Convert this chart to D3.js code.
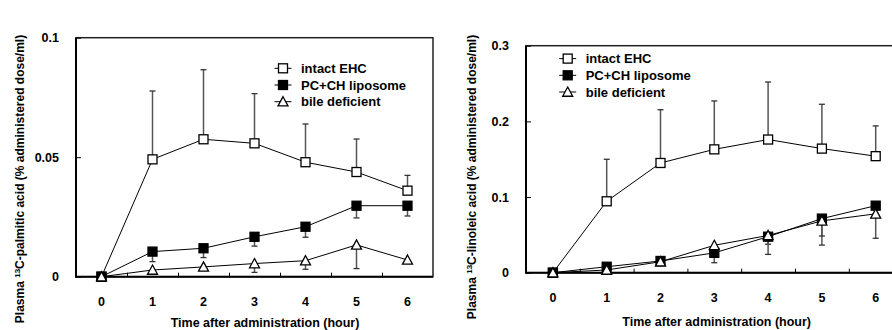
<!DOCTYPE html>
<html>
<head>
<meta charset="utf-8">
<script src="https://cdn.jsdelivr.net/npm/d3@7"></script>
<style>
	body { margin: 0; background: #fff; }
	text { font-family: Arial, "Liberation Sans", sans-serif; font-weight: bold; fill: #000; }
</style>
</head>
<body>
<div id="chart"></div>
<script>
// Sampling times (hours)
var hours = [0, 1, 2, 3, 4, 5, 6];
var seriesNames = ['intact EHC', 'PC+CH liposome', 'bile deficient'];

// Left panel: 13C-palmitic acid
var palmIntact = [0, 0.0491, 0.0575, 0.0558, 0.0479, 0.0438, 0.036];
var palmIntactErr = [0, 0.0286, 0.0291, 0.0208, 0.016, 0.0138, 0.0064];
var palmPC = [0, 0.0105, 0.0119, 0.0167, 0.0209, 0.0297, 0.0297];
var palmPCErr = [0, 0.0042, 0.0039, 0.0039, 0.0044, 0.0051, 0.0043];
var palmBile = [0, 0.0028, 0.0041, 0.0055, 0.0067, 0.0133, 0.007];
var palmBileErr = [0, 0, 0.0015, 0.0037, 0.0036, 0.0099, 0];
var palmTicks = [0, 0.05, 0.1];
var palmTickLabels = ['0', '0.05', '0.1'];

// Right panel: 13C-linoleic acid
var linIntact = [0, 0.0944, 0.145, 0.163, 0.176, 0.164, 0.154];
var linIntactErr = [0, 0.0555, 0.0704, 0.064, 0.076, 0.0586, 0.04];
var linPC = [0, 0.0079, 0.0155, 0.0262, 0.0476, 0.0715, 0.0886];
var linPCErr = [0, 0, 0, 0.013, 0.01, 0.035, 0];
var linBile = [0, 0.0036, 0.0145, 0.0362, 0.0492, 0.0685, 0.0778];
var linBileErr = [0, 0, 0.005, 0, 0.025, 0.02, 0.0323];
var linTicks = [0, 0.1, 0.2, 0.3];
var linTickLabels = ['0', '0.1', '0.2', '0.3'];

var svg = d3.select('#chart').append('svg')
	.attr('width', 892).attr('height', 330);

/** Draws a marker of the given kind centred at (cx, cy) */
function marker(g, kind, cx, cy) {
	if (kind == 'tri') {
		var s = 5;
		g.append('path')
			.attr('d', 'M' + cx + ',' + (cy - s) + 'L' + (cx + s) + ',' + (cy + s * 0.85) + 'L' + (cx - s) + ',' + (cy + s * 0.85) + 'Z')
			.style('fill', '#fff').style('stroke', '#000').style('stroke-width', 1.3);
	} else {
		g.append('rect')
			.attr('x', cx - 4.5).attr('y', cy - 4.5).attr('width', 9).attr('height', 9)
			.style('fill', kind == 'filled' ? '#000' : '#fff').style('stroke', '#000').style('stroke-width', 1.3);
	}
}

/** Builds one panel of the figure */
function panel(o) {
	var x = d3.scaleLinear().domain([-0.5, 6.5]).range([o.left, o.right]);
	var y = d3.scaleLinear().domain([0, o.ymax]).range([o.bottom, o.top]);
	var g = svg.append('g');

	// Frame
	g.append('rect')
		.attr('x', o.left).attr('y', o.top).attr('width', o.right - o.left).attr('height', o.bottom - o.top)
		.style('fill', 'none').style('stroke', '#222').style('stroke-width', 1.5);
	g.append('path')
		.attr('d', 'M' + o.left + ',' + o.top + 'V' + o.bottom + 'H' + o.right)
		.style('fill', 'none').style('stroke', '#000').style('stroke-width', 2);

	// Inner ticks: x between the hours, y at the labels
	var xAxis = d3.axisTop(x).tickValues([0.5, 1.5, 2.5, 3.5, 4.5, 5.5]).tickSize(4).tickFormat('');
	g.append('g').attr('transform', 'translate(0,' + o.bottom + ')').call(xAxis)
		.call(a => a.select('.domain').remove())
		.selectAll('line').style('stroke', '#000');
	var yAxis = d3.axisRight(y).tickValues(o.ticks).tickSize(5).tickFormat('');
	g.append('g').attr('transform', 'translate(' + o.left + ',0)').call(yAxis)
		.call(a => a.select('.domain').remove())
		.selectAll('line').style('stroke', '#000');

	// Tick labels
	g.selectAll('.ylab').data(o.ticks).enter().append('text')
		.attr('x', o.left - 17).attr('y', v => y(v) + 4.5)
		.attr('text-anchor', 'end').style('font-size', '12.5px')
		.text((v, i) => o.tickLabels[i]);
	g.selectAll('.xlab').data(hours).enter().append('text')
		.attr('x', h => x(h)).attr('y', o.bottom + 29.5)
		.attr('text-anchor', 'middle').style('font-size', '12.5px')
		.text(h => h);

	// Axis titles
	g.append('text')
		.attr('x', o.xTitleX).attr('y', o.bottom + o.xTitleDy)
		.attr('text-anchor', 'middle').style('font-size', '12.5px')
		.text('Time after administration (hour)');
	var yt = g.append('text')
		.attr('transform', 'translate(' + o.yTitleX + ',' + o.yTitleY + ') rotate(-90)')
		.attr('text-anchor', 'middle').style('font-size', '12px');
	yt.append('tspan').text('Plasma ');
	yt.append('tspan').attr('dy', -4).style('font-size', '8px').text('13');
	yt.append('tspan').attr('dy', 4).text('C-' + o.acid + ' acid (% administered dose/ml)');

	var series = [
		{ v: o.intact, e: o.intactErr, dir: 1, kind: 'open' },
		{ v: o.pc, e: o.pcErr, dir: -1, kind: 'filled' },
		{ v: o.bile, e: o.bileErr, dir: -1, kind: 'tri' }
	];

	// Error bars (one-sided)
	series.forEach(s => {
		hours.forEach((h, i) => {
			if (!s.e[i]) return;
			var y0 = y(s.v[i]), y1 = y(s.v[i] + s.dir * s.e[i]);
			g.append('line').attr('x1', x(h)).attr('x2', x(h)).attr('y1', y0).attr('y2', y1)
				.style('stroke', '#555').style('stroke-width', 1.5);
			g.append('line').attr('x1', x(h) - 3).attr('x2', x(h) + 3).attr('y1', y1).attr('y2', y1)
				.style('stroke', '#333').style('stroke-width', 1.3);
		});
	});

	// Lines and markers
	var line = d3.line().x((v, i) => x(hours[i])).y(v => y(v));
	series.forEach(s => {
		g.append('path').attr('d', line(s.v))
			.style('fill', 'none').style('stroke', '#000').style('stroke-width', 1);
	});
	series.forEach(s => {
		s.v.forEach((v, i) => marker(g, s.kind, x(hours[i]), y(v)));
	});

	// Legend
	var kinds = ['open', 'filled', 'tri'];
	seriesNames.forEach((name, i) => {
		var ly = o.legY + i * 16.7;
		g.append('line').attr('x1', o.legX - 8.5).attr('x2', o.legX + 8.5).attr('y1', ly).attr('y2', ly)
			.style('stroke', '#000').style('stroke-width', 1);
		marker(g, kinds[i], o.legX, ly);
		g.append('text').attr('x', o.legX + 18).attr('y', ly + 4.5)
			.style('font-size', '13px').text(name);
	});
}

panel({
	left: 76, right: 433, top: 37.7, bottom: 276.7, ymax: 0.1,
	ticks: palmTicks, tickLabels: palmTickLabels, acid: 'palmitic',
	intact: palmIntact, intactErr: palmIntactErr, pc: palmPC, pcErr: palmPCErr, bile: palmBile, bileErr: palmBileErr,
	xTitleX: 265, xTitleDy: 50, yTitleX: 24, yTitleY: 179, legX: 283, legY: 68.3
});
panel({
	left: 526, right: 902.6, top: 45.7, bottom: 272.7, ymax: 0.3,
	ticks: linTicks, tickLabels: linTickLabels, acid: 'linoleic',
	intact: linIntact, intactErr: linIntactErr, pc: linPC, pcErr: linPCErr, bile: linBile, bileErr: linBileErr,
	xTitleX: 716.7, xTitleDy: 53.5, yTitleX: 476, yTitleY: 177, legX: 567.7, legY: 58.6
});
</script>
</body>
</html>
